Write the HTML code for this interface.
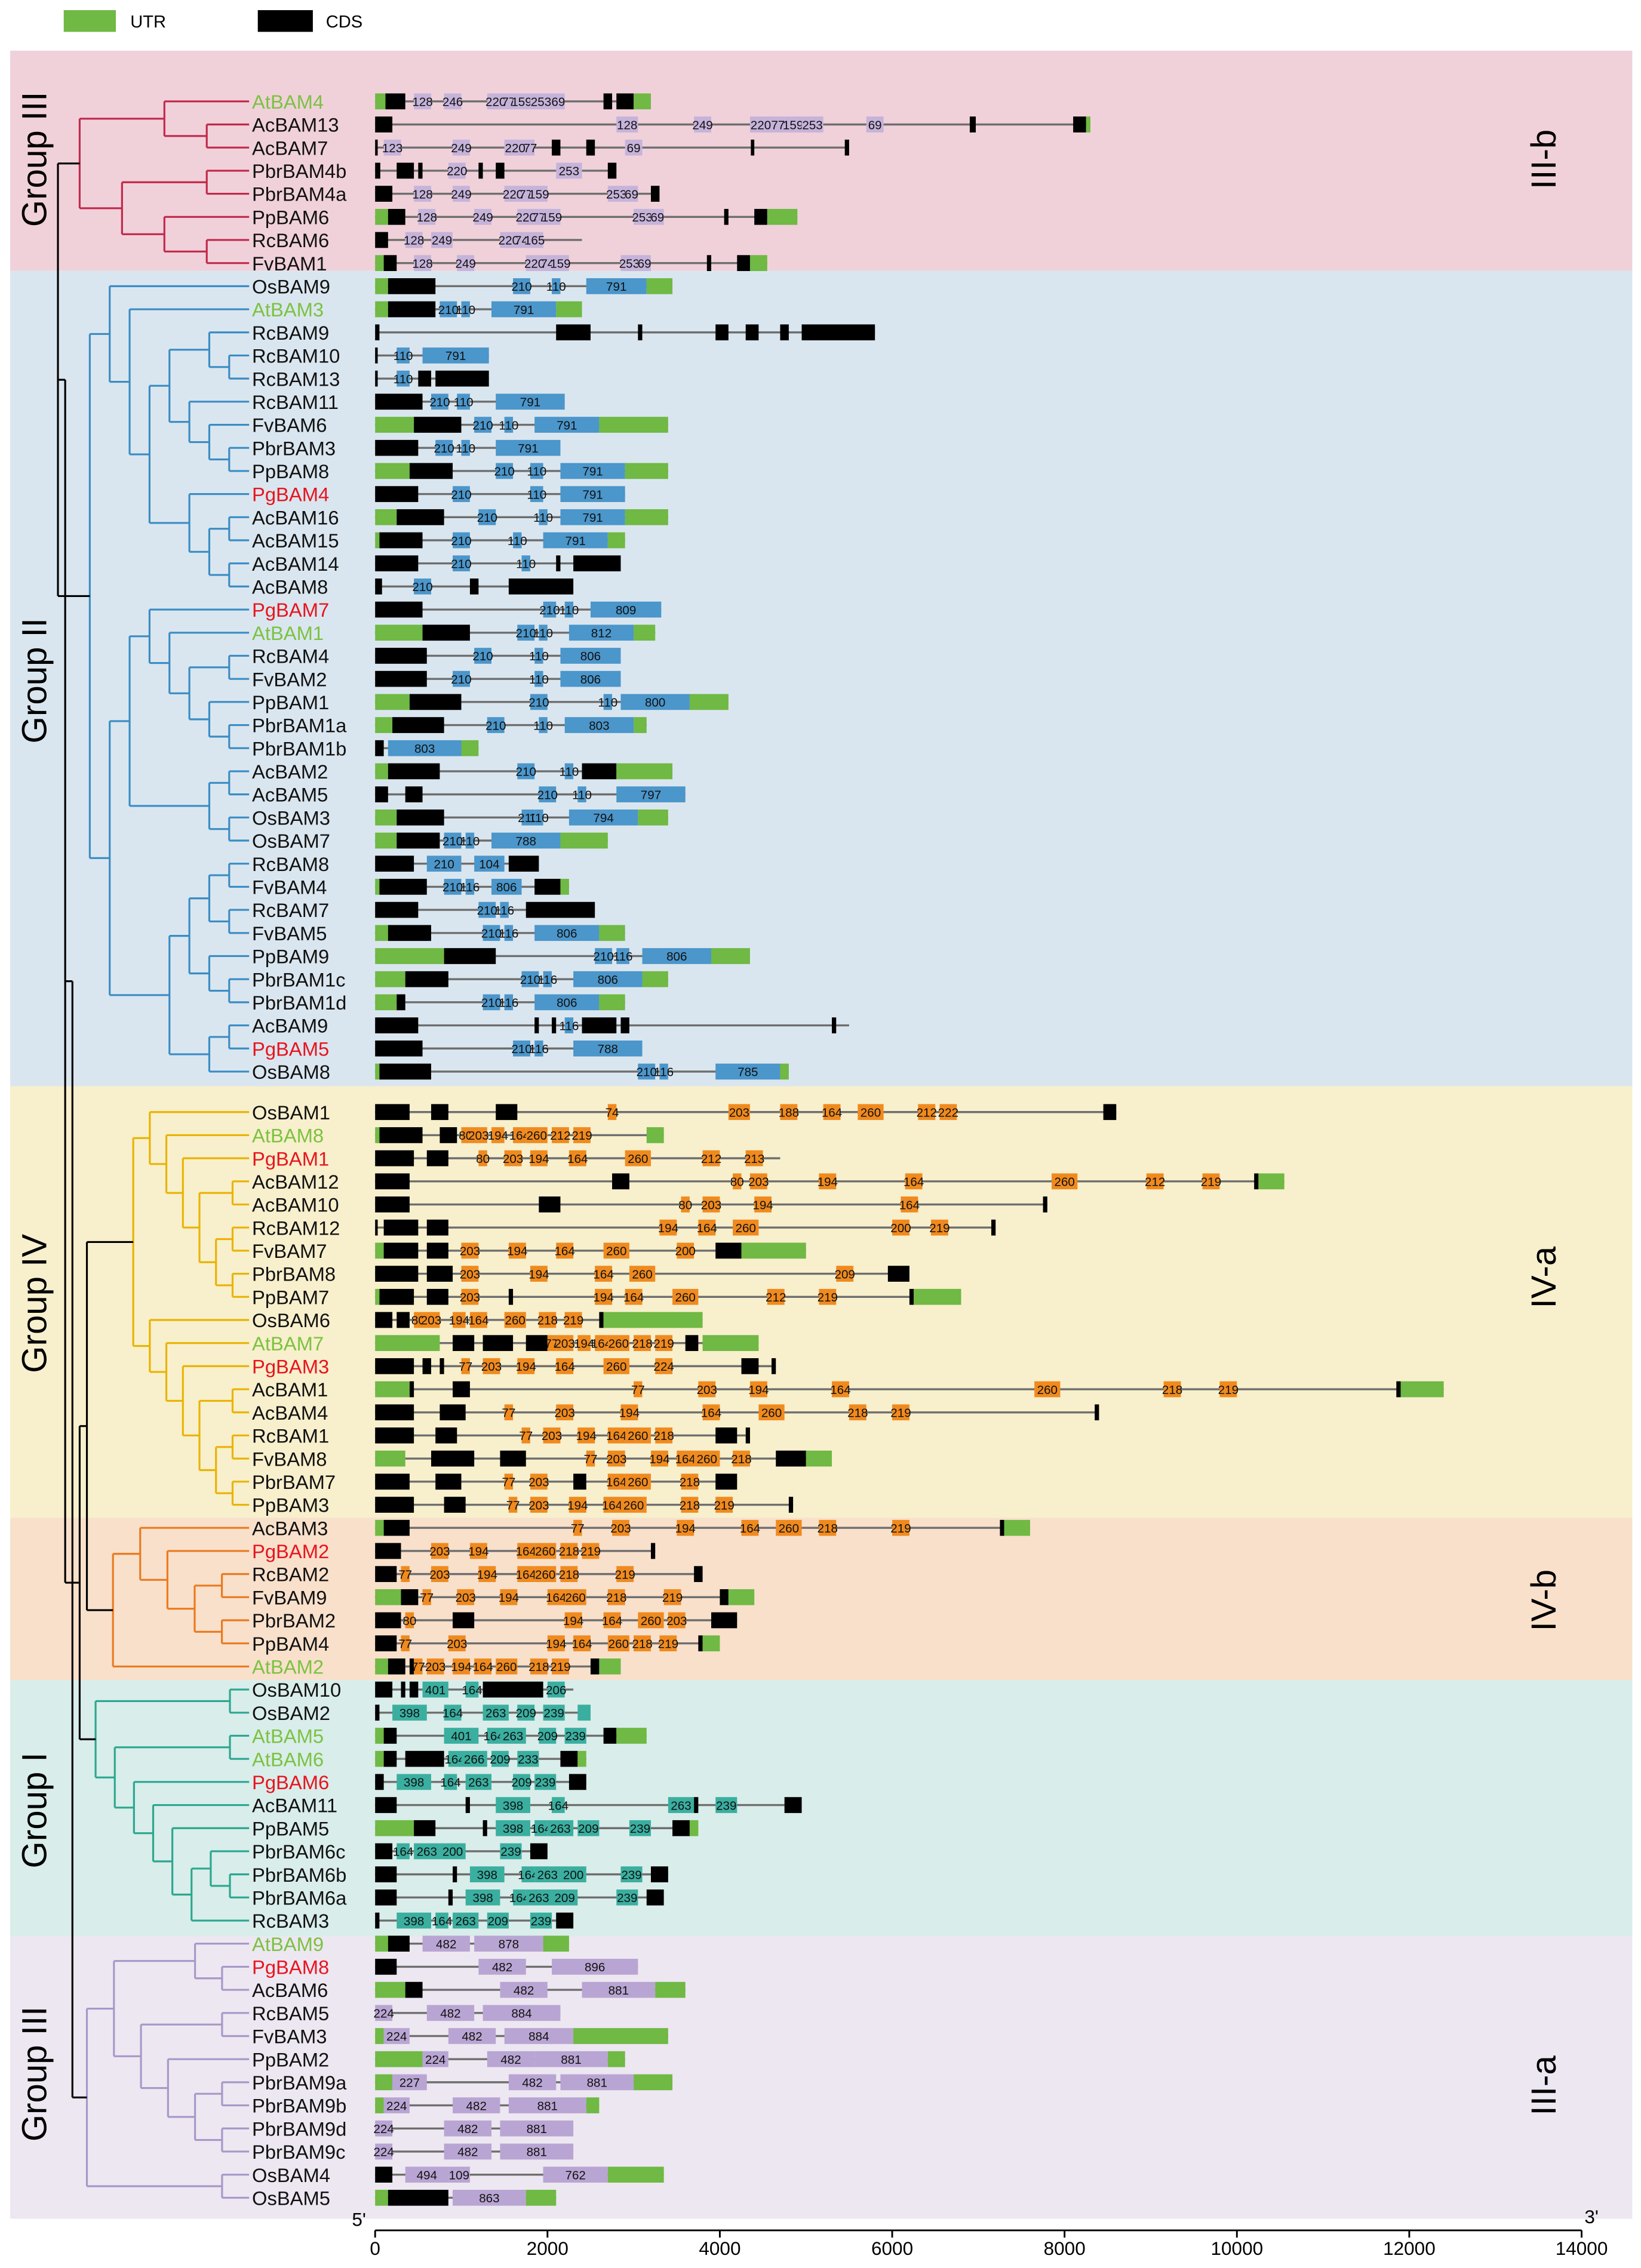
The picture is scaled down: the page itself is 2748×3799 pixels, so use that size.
<!DOCTYPE html>
<html><head><meta charset="utf-8"><style>
html,body{margin:0;padding:0;background:#fff;}
svg{display:block;font-family:"Liberation Sans",Arial,sans-serif;}
</style></head><body>
<svg id="fig" width="2748" height="3799" viewBox="0 0 1133 1566" preserveAspectRatio="none" xmlns="http://www.w3.org/2000/svg">
<g id="bands">
<rect x="7" y="35" width="1120" height="152" fill="#f0d1da"/>
<rect x="7" y="187" width="1120" height="563" fill="#dae6ef"/>
<rect x="7" y="750" width="1120" height="298" fill="#f8efcc"/>
<rect x="7" y="1048" width="1120" height="112" fill="#f8e0cb"/>
<rect x="7" y="1160" width="1120" height="177" fill="#d9edea"/>
<rect x="7" y="1337" width="1120" height="195" fill="#ede7f1"/>
</g>
<g>
<rect x="44" y="7" width="36" height="15" fill="#6fb944"/>
<text x="90" y="19" font-size="12">UTR</text>
<rect x="178" y="7" width="38" height="15" fill="#000"/>
<text x="225" y="19" font-size="12">CDS</text>
</g>
<g font-size="24">
<text transform="translate(32,110) rotate(-90)" text-anchor="middle">Group III</text>
<text transform="translate(32,470) rotate(-90)" text-anchor="middle">Group II</text>
<text transform="translate(32,900) rotate(-90)" text-anchor="middle">Group IV</text>
<text transform="translate(32,1250) rotate(-90)" text-anchor="middle">Group I</text>
<text transform="translate(32,1432) rotate(-90)" text-anchor="middle">Group III</text>
<text transform="translate(1074,110) rotate(-90)" text-anchor="middle">III-b</text>
<text transform="translate(1074,882) rotate(-90)" text-anchor="middle">IV-a</text>
<text transform="translate(1074,1105) rotate(-90)" text-anchor="middle">IV-b</text>
<text transform="translate(1074,1440) rotate(-90)" text-anchor="middle">III-a</text>
</g>
<g id="tree"></g>
<g id="genes"></g>
<g id="axis"></g>
</svg>
<script>
const geneNames=["AtBAM4","AcBAM13","AcBAM7","PbrBAM4b","PbrBAM4a","PpBAM6","RcBAM6","FvBAM1",
"OsBAM9","AtBAM3","RcBAM9","RcBAM10","RcBAM13","RcBAM11","FvBAM6","PbrBAM3","PpBAM8","PgBAM4","AcBAM16","AcBAM15","AcBAM14","AcBAM8","PgBAM7","AtBAM1","RcBAM4","FvBAM2","PpBAM1","PbrBAM1a","PbrBAM1b","AcBAM2","AcBAM5","OsBAM3","OsBAM7","RcBAM8","FvBAM4","RcBAM7","FvBAM5","PpBAM9","PbrBAM1c","PbrBAM1d","AcBAM9","PgBAM5","OsBAM8",
"OsBAM1","AtBAM8","PgBAM1","AcBAM12","AcBAM10","RcBAM12","FvBAM7","PbrBAM8","PpBAM7","OsBAM6","AtBAM7","PgBAM3","AcBAM1","AcBAM4","RcBAM1","FvBAM8","PbrBAM7","PpBAM3",
"AcBAM3","PgBAM2","RcBAM2","FvBAM9","PbrBAM2","PpBAM4","AtBAM2",
"OsBAM10","OsBAM2","AtBAM5","AtBAM6","PgBAM6","AcBAM11","PpBAM5","PbrBAM6c","PbrBAM6b","PbrBAM6a","RcBAM3",
"AtBAM9","PgBAM8","AcBAM6","RcBAM5","FvBAM3","PpBAM2","PbrBAM9a","PbrBAM9b","PbrBAM9d","PbrBAM9c","OsBAM4","OsBAM5"];
const geneLengths=[3200,8300,5500,2800,3300,4900,2400,4550,
3450,2400,5800,1320,1320,2200,3400,2150,3400,2900,3400,2900,2850,2300,3320,3250,2850,2850,4100,3150,1200,3450,3600,3400,2700,1900,2250,2550,2900,4350,3400,2900,5500,3100,4800,
8600,3350,4700,10550,7800,7200,5000,6200,6800,3800,4450,4650,12400,8400,4300,5300,4200,4850,
7600,3250,3800,4400,4200,4000,2850,
2300,2500,3150,2450,2450,4950,3750,2000,3400,3350,2300,
2250,3050,3600,2150,3400,2900,3450,2600,2300,2300,3350,2100];
const geneFeatures=[
"U0-120 C120-350 M450-650:128 M800-1000:246 M1300-1500:220 M1500-1600:77 M1600-1800:159 M1800-2050:253 M2050-2200:69 C2650-2750 C2800-3000 U3000-3200",
"C0-200 M2800-3050:128 M3700-3900:249 M4350-4600:220 M4600-4750:77 M4750-4950:159 M4950-5200:253 M5700-5900:69 C6900-6970 C8100-8250 U8250-8300",
"C0-30 M100-300:123 M900-1100:249 M1500-1750:220 M1750-1850:77 C2050-2150 C2450-2550 M2900-3100:69 C4360-4400 C5450-5500",
"C0-60 C250-450 C500-550 M850-1050:220 C1200-1250 C1400-1500 M2100-2400:253 C2700-2800",
"C0-200 M450-650:128 M900-1100:249 M1500-1700:220 M1700-1800:77 M1800-2000:159 M2700-2900:253 M2900-3050:69 C3200-3300",
"U0-150 C150-350 M500-700:128 M1150-1350:249 M1650-1850:220 M1850-1950:77 M1950-2150:159 M3000-3200:253 M3200-3350:69 C4050-4100 C4400-4550 U4550-4900",
"C0-150 M350-550:128 M650-900:249 M1450-1650:220 M1650-1750:74 M1750-1950:165",
"U0-100 C100-250 M450-650:128 M950-1150:249 M1750-1950:220 M1950-2050:74 M2050-2250:159 M2850-3050:253 M3050-3200:69 C3850-3900 C4200-4350 U4350-4550",
"U0-150 C150-700 M1600-1800:210 M2050-2150:110 M2450-3150:791 U3150-3450",
"U0-150 C150-700 M750-950:210 M1000-1100:110 M1350-2100:791 U2100-2400",
"C0-50 C2100-2500 C3050-3100 C3950-4100 C4300-4450 C4700-4800 C4950-5800",
"C0-30 M250-400:110 M550-1320:791",
"C0-30 M250-400:110 C500-650 C700-1320",
"C0-550 M650-850:210 M950-1100:110 M1400-2200:791",
"U0-450 C450-1000 M1150-1350:210 M1500-1600:110 M1850-2600:791 U2600-3400",
"C0-500 M700-900:210 M1000-1100:110 M1400-2150:791",
"U0-400 C400-900 M1400-1600:210 M1800-1950:110 M2150-2900:791 U2900-3400",
"C0-500 M900-1100:210 M1800-1950:110 M2150-2900:791",
"U0-250 C250-800 M1200-1400:210 M1900-2000:110 M2150-2900:791 U2900-3400",
"U0-50 C50-550 M900-1100:210 M1600-1700:110 M1950-2700:791 U2700-2900",
"C0-500 M900-1100:210 M1700-1800:110 C2100-2150 C2300-2850",
"C0-80 M450-650:210 C1100-1200 C1550-2300",
"C0-550 M1950-2100:210 M2200-2300:110 M2500-3320:809",
"U0-550 C550-1100 M1650-1850:210 M1900-2000:110 M2250-3000:812 U3000-3250",
"C0-600 M1150-1350:210 M1850-1950:110 M2150-2850:806",
"C0-600 M900-1100:210 M1850-1950:110 M2150-2850:806",
"U0-400 C400-1000 M1800-2000:210 M2650-2750:110 M2850-3650:800 U3650-4100",
"U0-200 C200-800 M1300-1500:210 M1900-2000:110 M2200-3000:803 U3000-3150",
"C0-100 M150-1000:803 U1000-1200",
"U0-150 C150-750 M1650-1850:210 M2200-2300:110 C2400-2800 U2800-3450",
"C0-150 C350-550 M1900-2100:210 M2350-2450:110 M2800-3600:797",
"U0-250 C250-800 M1700-1850:210 M1850-1950:110 M2250-3050:794 U3050-3400",
"U0-250 C250-750 M800-1000:210 M1050-1150:110 M1350-2150:788 U2150-2700",
"C0-450 M600-1000:210 M1150-1500:104 C1550-1900",
"U0-50 C50-600 M800-1000:210 M1050-1150:116 M1350-1700:806 C1850-2150 U2150-2250",
"C0-500 M1200-1400:210 M1450-1550:116 C1750-2550",
"U0-150 C150-650 M1250-1450:210 M1500-1600:116 M1850-2600:806 U2600-2900",
"U0-800 C800-1400 M2550-2750:210 M2800-2950:116 M3100-3900:806 U3900-4350",
"U0-350 C350-850 M1700-1900:210 M1950-2050:116 M2300-3100:806 U3100-3400",
"U0-250 C250-350 M1250-1450:210 M1500-1600:116 M1850-2600:806 U2600-2900",
"C0-500 C1850-1900 C2050-2100 M2200-2300:116 C2400-2800 C2850-2950 C5300-5350",
"C0-550 M1600-1800:210 M1850-1950:116 M2300-3100:788",
"U0-50 C50-650 M3050-3250:210 M3300-3400:116 M3950-4700:785 U4700-4800",
"C0-400 C650-850 C1400-1650 M2700-2800:74 M4100-4350:203 M4700-4900:188 M5200-5400:164 M5600-5900:260 M6300-6500:212 M6550-6750:222 C8450-8600",
"U0-50 C50-550 C750-950 M1000-1100:80 M1100-1300:203 M1350-1500:194 M1600-1750:164 M1750-2000:260 M2050-2250:212 M2300-2500:219 U3150-3350",
"C0-450 C600-850 M1200-1300:80 M1500-1700:203 M1800-2000:194 M2250-2450:164 M2900-3200:260 M3800-4000:212 M4300-4500:213",
"C0-400 C2750-2950 M4150-4250:80 M4350-4550:203 M5150-5350:194 M6150-6350:164 M7850-8150:260 M8950-9150:212 M9600-9800:219 C10200-10250 U10250-10550",
"C0-400 C1900-2150 M3550-3650:80 M3800-4000:203 M4400-4600:194 M6100-6300:164 C7750-7800",
"C0-30 C100-500 C600-850 M3300-3500:194 M3750-3950:164 M4150-4450:260 M6000-6200:200 M6450-6650:219 C7150-7200",
"U0-100 C100-500 C600-850 M1000-1200:203 M1550-1750:194 M2100-2300:164 M2650-2950:260 M3500-3700:200 C3950-4250 U4250-5000",
"C0-500 C600-900 M1000-1200:203 M1800-2000:194 M2550-2750:164 M2950-3250:260 M5350-5550:209 C5950-6200",
"U0-50 C50-450 C600-850 M1000-1200:203 C1550-1600 M2550-2750:194 M2900-3100:164 M3450-3750:260 M4550-4750:212 M5150-5350:219 C6200-6250 U6250-6800",
"C0-200 C250-400 M450-550:80 M550-750:203 M900-1050:194 M1100-1300:164 M1500-1750:260 M1900-2100:218 M2200-2400:219 C2600-2650 U2650-3800",
"U0-750 C900-1150 C1250-1600 C1750-2000 M2000-2100:77 M2100-2300:203 M2350-2500:194 M2550-2700:164 M2700-2950:260 M3000-3200:218 M3250-3450:219 C3600-3750 U3800-4450",
"C0-450 C550-650 C750-800 M1000-1100:77 M1250-1450:203 M1650-1850:194 M2100-2300:164 M2650-2950:260 M3250-3450:224 C4250-4450 C4600-4650",
"U0-400 C400-450 C900-1100 M3000-3100:77 M3750-3950:203 M4350-4550:194 M5300-5500:164 M7650-7950:260 M9150-9350:218 M9800-10000:219 C11850-11900 U11900-12400",
"C0-450 C750-1050 M1500-1600:77 M2100-2300:203 M2850-3050:194 M3800-4000:164 M4450-4750:260 M5500-5700:218 M6000-6200:219 C8350-8400",
"C0-450 C700-950 M1700-1800:77 M1950-2150:203 M2350-2550:194 M2700-2900:164 M2900-3200:260 M3250-3450:218 C3950-4200 C4300-4350",
"U0-350 C650-1150 C1450-1750 M2450-2550:77 M2700-2900:203 M3200-3400:194 M3500-3700:164 M3700-4000:260 M4150-4350:218 C4650-5000 U5000-5300",
"C0-400 C700-1000 M1500-1600:77 M1800-2000:203 C2300-2450 M2700-2900:164 M2900-3200:260 M3550-3750:218 C3950-4200",
"C0-450 C800-1050 M1550-1650:77 M1800-2000:203 M2250-2450:194 M2650-2850:164 M2850-3150:260 M3550-3750:218 M3950-4150:219 C4800-4850",
"U0-100 C100-400 M2300-2400:77 M2750-2950:203 M3500-3700:194 M4250-4450:164 M4650-4950:260 M5150-5350:218 M6000-6200:219 C7250-7300 U7300-7600",
"C0-300 M650-850:203 M1100-1300:194 M1650-1850:164 M1850-2100:260 M2150-2350:218 M2400-2600:219 C3200-3250",
"C0-250 M300-400:77 M650-850:203 M1200-1400:194 M1650-1850:164 M1850-2100:260 M2150-2350:218 M2800-3000:219 C3700-3800",
"U0-300 C300-500 M550-650:77 M950-1150:203 M1450-1650:194 M2000-2200:164 M2200-2450:260 M2700-2900:218 M3350-3550:219 C4000-4100 U4100-4400",
"C0-300 M350-450:80 C900-1150 M2200-2400:194 M2650-2850:164 M3050-3350:260 M3400-3600:203 C3900-4200",
"C0-250 M300-400:77 M850-1050:203 M2000-2200:194 M2300-2500:164 M2700-2950:260 M3000-3200:218 M3300-3500:219 C3750-3800 U3800-4000",
"U0-150 C150-350 C400-450 M450-550:77 M600-800:203 M900-1100:194 M1150-1350:164 M1400-1650:260 M1800-2000:218 M2050-2250:219 C2500-2600 U2600-2850",
"C0-200 C300-350 C400-500 M550-850:401 M1050-1200:164 C1250-1950 M2000-2200:206",
"C0-50 M200-600:398 M800-1000:164 M1250-1550:263 M1650-1850:209 M1950-2200:239 M2350-2500:",
"U0-100 C100-250 M800-1200:401 M1300-1450:164 M1450-1750:263 M1900-2100:209 M2200-2450:239 C2650-2800 U2800-3150",
"U0-100 C100-250 C350-800 M850-1000:164 M1000-1300:266 M1350-1550:209 M1650-1900:233 C2150-2350 U2350-2450",
"C0-100 M250-650:398 M800-950:164 M1050-1350:263 M1600-1800:209 M1850-2100:239 C2250-2450",
"C0-250 C1050-1100 M1400-1800:398 M2050-2200:164 M3400-3700:263 C3700-3750 M3950-4200:239 C4750-4950",
"U0-450 C450-700 C1250-1300 M1400-1800:398 M1850-2000:164 M2000-2300:263 M2350-2600:209 M2950-3200:239 C3450-3650 U3650-3750",
"C0-200 M250-400:164 M450-750:263 M750-1050:200 M1450-1700:239 C1800-2000",
"C0-250 C900-950 M1100-1500:398 M1700-1850:164 M1850-2150:263 M2150-2450:200 M2850-3100:239 C3200-3400",
"C0-250 C850-900 M1050-1450:398 M1600-1750:164 M1750-2050:263 M2050-2350:209 M2800-3050:239 C3150-3350",
"C0-50 M250-650:398 M700-850:164 M900-1200:263 M1300-1550:209 M1800-2050:239 C2100-2300",
"U0-150 C150-400 M550-1100:482 M1150-1950:878 U1950-2250",
"C0-250 M1200-1750:482 M2050-3050:896",
"U0-350 C350-550 M1450-2000:482 M2400-3250:881 U3250-3600",
"M0-200:224 M600-1150:482 M1250-2150:884",
"U0-100 M100-400:224 M850-1400:482 M1500-2300:884 U2300-3400",
"U0-550 M550-850:224 M1300-1850:482 M1850-2700:881 U2700-2900",
"U0-200 M200-600:227 M1550-2100:482 M2150-3000:881 U3000-3450",
"U0-100 M100-400:224 M900-1450:482 M1550-2450:881 U2450-2600",
"M0-200:224 M800-1350:482 M1450-2300:881",
"M0-200:224 M800-1350:482 M1450-2300:881",
"C0-200 M350-850:494 M850-1100:109 M1950-2700:762 U2700-3350",
"U0-150 C150-850 M900-1750:863 U1750-2100"];
const axisTicks=[0,2000,4000,6000,8000,10000,12000,14000];
const groupStarts=[0,8,43,61,68,79];
const groupMotifColors=["#c6b3da","#4b96cb","#f08a1e","#f08a1e","#3aafa0","#b9a5d3"];
const groupTreeColors=["#c2284a","#3a8cc4","#e8b400","#ea7a1e","#2aa78f","#a698c8"];
const treeIIIb=[[0,[1,2]],[[3,4],[5,[6,7]]]];
const treeII=[[8,[9,[[[10,[11,12]],[13,[14,[15,16]]]],[17,[[18,19],[20,21]]]]]],[[[22,[23,[[24,25],[26,[27,28]]]]],[[29,30],[31,32]]],[[[[33,34],[35,36]],[37,[38,39]]],[[40,41],42]]]];
const treeIVa=[[43,[44,[45,[[46,47],[[48,49],[50,51]]]]]],[52,[53,[54,[[55,56],[[57,58],[59,60]]]]]]];
const treeIVb=[[61,[62,[[63,64],[65,66]]]],67];
const treeI=[[68,69],[[70,71],[72,[73,[74,[[75,[76,77]],78]]]]]];
const treeIIIa=[[[79,[80,81]],[[82,83],[84,[[85,86],[87,88]]]]],[89,90]];

const NS="http://www.w3.org/2000/svg";
const X0=259,X1=1092,BPMAX=14000;
function xs(bp){return X0+bp*(X1-X0)/BPMAX;}
function rowY(i){return 70+15.95*i+(i>=43?12:0);}
function groupOf(i){let g=0;for(let k=0;k<groupStarts.length;k++)if(i>=groupStarts[k])g=k;return g;}
function mk(tag,attrs,parent){const e=document.createElementNS(NS,tag);for(const k in attrs)e.setAttribute(k,attrs[k]);parent.appendChild(e);return e;}

// genes
const G=document.getElementById('genes');
geneNames.forEach((name,i)=>{
  const y=rowY(i),g=groupOf(i);
  const row=mk('g',{},G);
  
  
  const col=name.startsWith('At')?'#7cc242':(name.startsWith('Pg')?'#e8141e':'#111');
  const t=mk('text',{x:174,y:y+5,'font-size':13.5,fill:col},row);
  t.textContent=name;
  
  
  const ln=mk('line',{x1:xs(0),x2:xs(geneLengths[i]),y1:y,y2:y,stroke:'#6e6e6e','stroke-width':1.4},row);
  
  
  geneFeatures[i].split(' ').forEach(f=>{
    const type=f[0];const rest=f.slice(1);const parts=rest.split(':');const se=parts[0].split('-');
    const s=+se[0],e=+se[1];const x1=xs(s),x2=xs(e);
    const fill=type==='U'?'#6fb944':(type==='C'?'#000':groupMotifColors[g]);
    const r=mk('rect',{x:x1,y:y-5.5,width:Math.max(1.2,x2-x1),height:11,fill:fill},row);
    
    
    if(type==='M'&&parts[1]){
      const tt=mk('text',{x:(x1+x2)/2,y:y+3.2,'font-size':8.5,'text-anchor':'middle',fill:'#111'},row);
      tt.textContent=parts[1];
      
      
    }
  });
});

// tree
const T=document.getElementById('tree');
const LEAFX=172;
function height(n){return Array.isArray(n)?1+Math.max(height(n[0]),height(n[1])):0;}
function line(x1,y1,x2,y2,c){const l=mk('line',{x1,y1,x2,y2,stroke:c,'stroke-width':1.3},T);}
function drawSub(n,rootX,step,c){
  if(!Array.isArray(n)) return {x:LEAFX,y:rowY(n)};
  const h=height(n);const x=LEAFX-h*step;
  const a=drawSub(n[0],rootX,step,c),b=drawSub(n[1],rootX,step,c);
  line(x,a.y,a.x,a.y,c);line(x,b.y,b.x,b.y,c);line(x,a.y,x,b.y,c);
  return {x:x,y:(a.y+b.y)/2};
}
function group(tree,gi,rootX){const h=height(tree);const step=(LEAFX-rootX)/h;return drawSub(tree,rootX,step,groupTreeColors[gi]);}
const gIIIb=group(treeIIIb,0,55),gII=group(treeII,1,62),gIVa=group(treeIVa,2,92),gIVb=group(treeIVb,3,78),gI=group(treeI,4,66),gIIIa=group(treeIIIa,5,60);
function join(a,b,x){line(x,a.y,a.x,a.y,'#000');line(x,b.y,b.x,b.y,'#000');line(x,a.y,x,b.y,'#000');return {x:x,y:(a.y+b.y)/2};}
const nA=join(gIIIb,gII,40);
const nB=join(gIVa,gIVb,60);
const nC=join(nB,gI,55);
const nD=join(nA,nC,45);
join(nD,gIIIa,50);

// axis
const A=document.getElementById('axis');
const al=mk('line',{x1:X0,x2:X1,y1:1540,y2:1540,stroke:'#000','stroke-width':1.2},A);


axisTicks.forEach(v=>{
  const tk=mk('line',{x1:xs(v),x2:xs(v),y1:1540,y2:1545,stroke:'#000','stroke-width':1.2},A);
  
  
  const tl=mk('text',{x:xs(v),y:1557,'font-size':13,'text-anchor':'middle'},A);
  tl.textContent=v;
  
  
});
const p5=mk('text',{x:243,y:1537,'font-size':13},A);p5.textContent="5'";


const p3=mk('text',{x:1094,y:1535,'font-size':13},A);p3.textContent="3'";


</script>
</body></html>
